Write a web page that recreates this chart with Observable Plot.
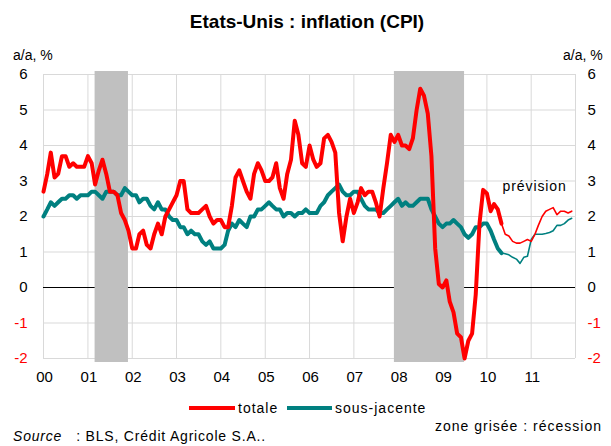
<!DOCTYPE html>
<html>
<head>
<meta charset="utf-8">
<script src="https://cdn.jsdelivr.net/npm/d3@7"></script>
<script src="https://cdn.jsdelivr.net/npm/@observablehq/plot@0.6"></script>
<style>
  html, body { margin: 0; padding: 0; background: #fff; }
  #wrap { position: relative; width: 611px; height: 446px; overflow: hidden; font-family: "Liberation Sans", Arial, sans-serif; color: #000; }
  #wrap svg { position: absolute; left: 0; top: 0; }
  .t { position: absolute; line-height: 1; white-space: nowrap; font-size: 14px; }
  .sw { position: absolute; height: 4px; }
</style>
</head>
<body>
<div id="wrap">
  <div class="t" style="left:0;width:614px;text-align:center;top:12px;font-size:19px;font-weight:bold;">Etats-Unis : inflation (CPI)</div>
  <div class="t" style="left:13px;top:48px;">a/a, %</div>
  <div class="t" style="left:563px;top:48px;">a/a, %</div>
  <div class="sw" style="left:189px;top:406px;width:46px;background:#ff0000;"></div>
  <div class="t" style="left:238px;top:401px;letter-spacing:1px;">totale</div>
  <div class="sw" style="left:287px;top:406px;width:45px;background:#008080;"></div>
  <div class="t" style="left:335px;top:401px;letter-spacing:1px;">sous-jacente</div>
  <div class="t" style="right:9px;top:419px;letter-spacing:1px;">zone grisée : récession</div>
  <div class="t" style="left:13px;top:429px;letter-spacing:0.8px;"><i>Source</i>&nbsp;&nbsp;&nbsp;: BLS, Crédit Agricole S.A..</div>
</div>
<script>
// ---- data ----
const startYear = 2000;
const yearLabels = ["00","01","02","03","04","05","06","07","08","09","10","11"];
const yTicks = [-2, -1, 0, 1, 2, 3, 4, 5, 6];
const forecastStartIndex = 124; // May 2010: last observed month, forecast thereafter

// CPI total, y/y %, monthly Jan 2000 - Dec 2011
const totale = [
  2.7, 3.2, 3.8, 3.1, 3.2, 3.7, 3.7, 3.4, 3.5, 3.4, 3.4, 3.4,
  3.7, 3.5, 2.9, 3.3, 3.6, 3.2, 2.7, 2.7, 2.6, 2.1, 1.9, 1.6,
  1.1, 1.1, 1.5, 1.6, 1.2, 1.1, 1.5, 1.8, 1.5, 2.0, 2.2, 2.4,
  2.6, 3.0, 3.0, 2.2, 2.1, 2.1, 2.1, 2.2, 2.3, 2.0, 1.8, 1.9,
  1.9, 1.7, 1.7, 2.3, 3.1, 3.3, 3.0, 2.7, 2.5, 3.2, 3.5, 3.3,
  3.0, 3.0, 3.1, 3.5, 2.8, 2.5, 3.2, 3.6, 4.7, 4.3, 3.5, 3.4,
  4.0, 3.6, 3.4, 3.5, 4.2, 4.3, 4.1, 3.8, 2.1, 1.3, 2.0, 2.5,
  2.1, 2.4, 2.8, 2.6, 2.7, 2.7, 2.4, 2.0, 2.8, 3.5, 4.3, 4.1,
  4.3, 4.0, 4.0, 3.9, 4.2, 5.0, 5.6, 5.4, 4.9, 3.7, 1.1, 0.1,
  0.0, 0.2, -0.4, -0.7, -1.3, -1.4, -2.0, -1.5, -1.3, -0.2, 1.8, 2.75,
  2.65, 2.15, 2.35, 2.2, 1.8, 1.5, 1.45, 1.3, 1.25, 1.25, 1.3, 1.35,
  1.3, 1.5, 1.75, 2.0, 2.15, 2.2, 2.25, 2.05, 2.15, 2.15, 2.1, 2.15
];
// Core CPI (sous-jacente), y/y %
const sousJacente = [
  2.0, 2.2, 2.4, 2.3, 2.4, 2.5, 2.5, 2.6, 2.6, 2.5, 2.6, 2.6,
  2.6, 2.7, 2.7, 2.6, 2.5, 2.7, 2.7, 2.7, 2.6, 2.6, 2.8, 2.7,
  2.6, 2.6, 2.4, 2.5, 2.5, 2.3, 2.2, 2.4, 2.2, 2.2, 2.0, 1.9,
  1.9, 1.7, 1.7, 1.5, 1.6, 1.5, 1.5, 1.3, 1.2, 1.3, 1.1, 1.1,
  1.1, 1.2, 1.6, 1.8, 1.7, 1.9, 1.8, 1.7, 2.0, 2.0, 2.2, 2.2,
  2.3, 2.4, 2.3, 2.2, 2.2, 2.0, 2.1, 2.1, 2.0, 2.1, 2.1, 2.2,
  2.1, 2.1, 2.1, 2.3, 2.4, 2.6, 2.7, 2.8, 2.9, 2.7, 2.6, 2.6,
  2.7, 2.7, 2.5, 2.3, 2.2, 2.2, 2.2, 2.1, 2.1, 2.2, 2.3, 2.4,
  2.5, 2.3, 2.4, 2.3, 2.3, 2.4, 2.5, 2.5, 2.5, 2.2, 2.0, 1.8,
  1.7, 1.8, 1.8, 1.9, 1.8, 1.7, 1.5, 1.4, 1.5, 1.7, 1.7, 1.8,
  1.8, 1.6, 1.35, 1.1, 0.97, 0.95, 0.92, 0.85, 0.8, 0.68, 0.85, 0.88,
  1.35, 1.5, 1.5, 1.5, 1.52, 1.55, 1.6, 1.75, 1.75, 1.8, 1.9, 1.95
];
// NBER recessions
const recessionStart = ["2001-03-01", "2007-12-01"];
const recessionEnd   = ["2001-12-01", "2009-07-01"];
const forecastLabel = "prévision";
const forecastLabelValue = 2.85;

// ---- build tables ----
const monthDate = i => new Date(Date.UTC(startYear, i, 1));
const rows = totale.map((v, i) => ({date: monthDate(i), totale: v, core: sousJacente[i], i}));
const observed = rows.filter(d => d.i <= forecastStartIndex);
const forecast = rows.filter(d => d.i >= forecastStartIndex);
const recessions = recessionStart.map((s, i) => ({start: new Date(s), end: new Date(recessionEnd[i])}));
const yearDates = yearLabels.map((_, i) => new Date(Date.UTC(startYear + i, 0, 1)));
const gridDates = d3.range(yearLabels.length + 1).map(i => new Date(Date.UTC(startYear + i, 0, 1)));

const RED = "#ff0000", TEAL = "#008080", GRID = "#d9d9d9";

const chart = Plot.plot({
  width: 611,
  height: 446,
  marginLeft: 43,
  marginRight: 36,
  marginTop: 74,
  marginBottom: 88,
  style: {fontFamily: "Liberation Sans, Arial, sans-serif", fontSize: "15px", background: "transparent"},
  x: {type: "utc", domain: [gridDates[0], gridDates[gridDates.length - 1]], axis: null},
  y: {domain: [-2, 6], axis: null},
  marks: [
    Plot.ruleY(yTicks, {stroke: GRID, strokeWidth: 1}),
    Plot.ruleX(gridDates, {stroke: GRID, strokeWidth: 1}),
    Plot.ruleY([0], {stroke: "#000", strokeWidth: 1}),
    Plot.rect(recessions, {x1: "start", x2: "end", fill: "#c0c0c0", insetTop: -3, insetBottom: -4}),
    Plot.line(observed, {x: "date", y: "core", stroke: TEAL, strokeWidth: 4, strokeLinejoin: "round"}),
    Plot.line(forecast, {x: "date", y: "core", stroke: TEAL, strokeWidth: 1.6, strokeLinejoin: "round"}),
    Plot.line(observed, {x: "date", y: "totale", stroke: RED, strokeWidth: 4, strokeLinejoin: "round"}),
    Plot.line(forecast, {x: "date", y: "totale", stroke: RED, strokeWidth: 1.6, strokeLinejoin: "round"}),
    // left tick labels
    Plot.text(yTicks, {y: d => d, text: d => String(d), frameAnchor: "left", textAnchor: "end", dx: -16,
      fill: d => d < 0 ? RED : "#000", fontSize: 15}),
    // right tick labels
    Plot.text(yTicks, {y: d => d, text: d => String(d), frameAnchor: "right", textAnchor: "start", dx: 12,
      fill: d => d < 0 ? RED : "#000", fontSize: 15}),
    // x tick labels
    Plot.text(yearDates, {x: d => d, text: (d, i) => yearLabels[i], frameAnchor: "bottom", dy: 23, dx: 1, fontSize: 15}),
    // forecast annotation
    Plot.text([rows[rows.length - 1]], {x: "date", y: () => forecastLabelValue, text: () => forecastLabel,
      textAnchor: "end", dx: -5, fontSize: 14})
  ]
});
d3.select(chart).selectAll("text").filter(function() { return this.textContent === forecastLabel; })
  .attr("letter-spacing", "0.9px");
document.getElementById("wrap").prepend(chart);
</script>
</body>
</html>
